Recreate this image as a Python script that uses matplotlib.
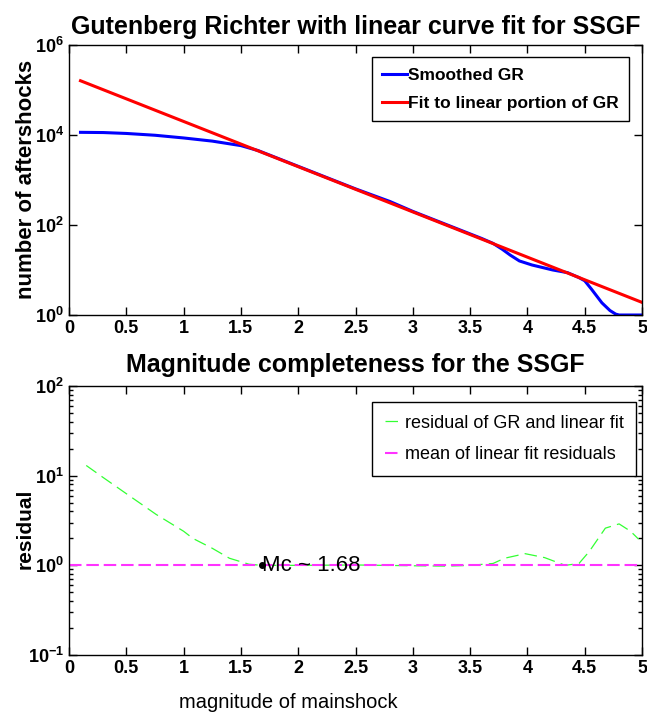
import numpy as np
import matplotlib
matplotlib.use("Agg")
import matplotlib.pyplot as plt

plt.rcParams['font.family'] = ['Liberation Sans', 'DejaVu Sans']
plt.rcParams['mathtext.default'] = 'regular'
plt.rcParams['lines.scale_dashes'] = False

# smoothed Gutenberg-Richter curve (log10 of count)
gr_mag = [0.1, 0.3, 0.5, 0.75, 1.0, 1.25, 1.5, 1.65, 1.8, 2.0, 2.5, 2.8, 3.0,
          3.5, 3.6, 3.7, 3.78, 3.85, 3.93, 4.04, 4.22, 4.35, 4.45, 4.5, 4.56,
          4.65, 4.72, 4.77, 4.8, 5.0]
gr_log = [4.055, 4.05, 4.03, 3.99, 3.93, 3.86, 3.76, 3.65, 3.5, 3.3, 2.8, 2.52, 2.3,
          1.8, 1.7, 1.59, 1.46, 1.33, 1.2, 1.11, 1.0, 0.94, 0.83, 0.76, 0.57,
          0.27, 0.1, 0.02, 0.0, 0.0]

# linear fit end points
fit_mag = [0.1, 5.0]
fit_log = [5.2, 0.28]

# residual between GR and linear fit
res_mag = [0.15, 0.3, 0.5, 0.76, 1.0, 1.08, 1.25, 1.4, 1.57, 1.68, 2.0, 2.5, 3.0,
           3.3, 3.5, 3.7, 3.8, 3.98, 4.15, 4.33, 4.45, 4.54, 4.68, 4.8, 4.9, 4.97]
res_val = [13, 9.5, 6.3, 3.7, 2.4, 2.0, 1.55, 1.2, 1.03, 1.0, 1.0, 1.01, 0.99,
           0.98, 1.0, 1.05, 1.2, 1.35, 1.22, 1.0, 1.05, 1.43, 2.6, 2.9, 2.4, 1.96]
mean_res = 1.0
mc = 1.68

fig = plt.figure(figsize=(6.47, 7.13), dpi=100)
ax1 = fig.add_axes([0.1067, 0.5582, 0.8856, 0.3791])
ax2 = fig.add_axes([0.1067, 0.0813, 0.8856, 0.3773])

ax1.plot(gr_mag, 10 ** np.array(gr_log), color='#0000ff', lw=2.2, label='Smoothed GR')
ax1.plot(fit_mag, 10 ** np.array(fit_log), color='#ff0000', lw=2.2, label='Fit to linear portion of GR')
ax1.set_yscale('log')
ax1.set_xlim(0, 5)
ax1.set_ylim(1, 1e6)
ax1.set_yticks([1, 1e2, 1e4, 1e6])
ax1.yaxis.set_minor_locator(matplotlib.ticker.NullLocator())
ax1.set_title('Gutenberg Richter with linear curve fit for SSGF', fontsize=18, fontweight='bold', pad=8)
ax1.set_ylabel('number of aftershocks', fontsize=16, fontweight='bold')
ax1.yaxis.set_label_coords(-0.056, 0.5)
leg1 = ax1.legend(loc='upper right', bbox_to_anchor=(0.977, 0.954),
                  handlelength=1.4, handletextpad=0.05, fancybox=False, edgecolor='black',
                  framealpha=1, borderpad=0.6, labelspacing=0.75, borderaxespad=0,
                  prop={'weight': 'bold', 'size': 12.5})
leg1.get_frame().set_linewidth(1.0)

ax2.plot(res_mag, res_val, color='#33ff33', lw=0.9, linestyle=(0, (9, 4.5)),
         label='residual of GR and linear fit')
ax2.axhline(mean_res, color='#ff33ff', lw=1.5, linestyle=(0, (9, 3.5)),
            label='mean of linear fit residuals')
ax2.plot([mc], [mean_res], 'o', color='black', ms=4)
ax2.text(mc, mean_res, 'Mc ~ 1.68', fontsize=16, va='center', ha='left')
ax2.set_yscale('log')
ax2.set_xlim(0, 5)
ax2.set_ylim(0.1, 100)
ax2.set_yticks([0.1, 1, 10, 100])
ax2.set_title('Magnitude completeness for the SSGF', fontsize=18, fontweight='bold', pad=10)
ax2.set_ylabel('residual', fontsize=15, fontweight='bold')
ax2.yaxis.set_label_coords(-0.06, 0.47)
ax2.set_xlabel('magnitude of mainshock', fontsize=14.5)
ax2.xaxis.set_label_coords(0.382, -0.14)
leg2 = ax2.legend(loc='upper right', bbox_to_anchor=(0.99, 0.94),
                  handlelength=0.8, handletextpad=0.3, fancybox=False, edgecolor='black',
                  framealpha=1, borderpad=0.7, labelspacing=0.8, borderaxespad=0,
                  prop={'size': 13})
leg2.get_frame().set_linewidth(1.0)

for ax in (ax1, ax2):
    ax.set_xticks(np.arange(0, 5.01, 0.5))
    ax.set_xticklabels(['0', '0.5', '1', '1.5', '2', '2.5', '3', '3.5', '4', '4.5', '5'])
    ax.tick_params(which='both', direction='in', top=True, right=True)
    ax.tick_params(which='major', length=6, width=1, labelsize=13)
    ax.tick_params(which='minor', length=3, width=1)
    for lab in ax.get_xticklabels() + ax.get_yticklabels():
        lab.set_fontweight('bold')
    for s in ax.spines.values():
        s.set_linewidth(1.0)

fig.savefig('out.png', dpi=100)
